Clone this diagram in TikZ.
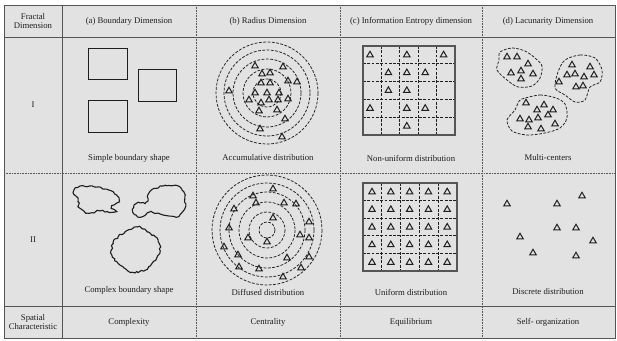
\documentclass[tikz,border=0pt]{standalone}
\usepackage{fontspec}
\setmainfont{Liberation Serif}
\usetikzlibrary{shapes.geometric,decorations.pathmorphing}
\definecolor{paperGrey}{HTML}{E2E2E2}
\definecolor{ruleGrey}{HTML}{555555}
\definecolor{inkBlack}{HTML}{1E1E1E}
\tikzset{
  tri/.style={draw=inkBlack, regular polygon, regular polygon sides=3,
    minimum size=7.5pt, inner sep=0pt, line width=1pt},
  lbl/.style={font=\fontsize{8.7}{9.7}\selectfont, text=inkBlack, align=center},
  rule/.style={draw=ruleGrey, line width=0.8pt},
  dotrule/.style={draw=ruleGrey, line width=0.6pt, densely dotted},
  ring/.style={draw=inkBlack, line width=0.75pt, dash pattern=on 2.8pt off 1.5pt},
  blob/.style={draw=inkBlack, line width=1.1pt, decorate,
    decoration={random steps, segment length=2.2pt, amplitude=0.9pt}},
  cluster/.style={draw=inkBlack, line width=0.75pt, dash pattern=on 2.8pt off 1.5pt}
}
\begin{document}
\begin{tikzpicture}[x=1pt,y=-1pt]
  \useasboundingbox (0,0) rectangle (617,340);
  \pgfmathsetseed{7}
  % table background and rules
  \fill[paperGrey] (4,5) rectangle (615,338);
  \draw[dotrule] (4,173) -- (615,173);
  \foreach \xv in {196,340,482}
    \draw[dotrule] (\xv,5) -- (\xv,338);
  \draw[rule] (4,37) -- (615,37);
  \draw[rule] (4,306) -- (615,306);
  \draw[rule] (62,5) -- (62,338);
  \draw[rule] (4,5) rectangle (615,338);
  % header row
  \node[lbl] (hfd) at (33,21) {Fractal\\Dimension};
  \node[lbl] (ha) at (129,21) {(a) Boundary Dimension};
  \node[lbl] (hb) at (268,21) {(b) Radius Dimension};
  \node[lbl] (hc) at (411,21) {(c) Information Entropy dimension};
  \node[lbl] (hd) at (548,21) {(d) Lacunarity Dimension};
  % row labels
  \node[lbl] (rI) at (33,105) {I};
  \node[lbl] (rII) at (33,240) {II};
  % (a) boundary, row I
  \draw[rule, draw=inkBlack, line width=1pt] (88,48) rectangle (127,79);
  \draw[rule, draw=inkBlack, line width=1pt] (138,69) rectangle (176,101);
  \draw[rule, draw=inkBlack, line width=1pt] (88,100) rectangle (127,132);
  \node[lbl] (la1) at (129,158) {Simple boundary shape};
  % (a) boundary, row II
  \draw[blob] plot[smooth cycle] coordinates {(76,188) (90,186) (104,189) (113,192)
    (119,200) (112,206) (116,212) (100,211) (88,213) (80,208) (78,200) (74,194)};
  \draw[blob] plot[smooth cycle] coordinates {(150,192) (163,186) (178,186) (185,195)
    (184,210) (176,217) (160,214) (150,212) (140,217) (133,212) (136,204) (146,202)};
  \draw[blob] plot[smooth cycle] coordinates {(125,232) (137,227) (150,233) (158,240)
    (160,252) (153,262) (145,270) (132,272) (120,265) (112,255) (113,243) (118,237)};
  \node[lbl] (la2) at (129,290) {Complex boundary shape};
  % (b) radius, row I
  \foreach \r in {14,24,34,43,51}
    \draw[ring] (267,93) circle (\r);
  \foreach \p [count=\i] in {(255,66),(262,74),(270,73),(283,67),(261,83),(270,83),
    (288,81),(297,82),(229,91),(255,93),(267,93),(279,93),(249,100),(261,103),
    (269,100),(278,100),(288,99),(259,111),(277,110),(285,119),(260,129),(282,137)}
    \node[tri] (tb1-\i) at \p {};
  \node[lbl] (lb1) at (268,158) {Accumulative distribution};
  % (b) radius, row II
  \foreach \r in {8,18,28,38,47,55}
    \draw[ring] (267,230) circle (\r);
  \foreach \p [count=\i] in {(273,189),(253,196),(256,203),(284,203),(296,204),
    (234,209),(273,218),(309,222),(229,228),(248,238),(267,242),(300,235),(309,238),
    (224,247),(238,255),(287,258),(309,257),(239,267),(259,269),(301,268),(283,277)}
    \node[tri] (tb2-\i) at \p {};
  \node[lbl] (lb2) at (268,292) {Diffused distribution};
  % (c) entropy, row I
  \foreach \xv in {381.4,399.8,418.2,436.6}
    \draw[ring, line width=0.9pt] (\xv,46) -- (\xv,135);
  \foreach \yv in {63.8,81.6,99.4,117.2}
    \draw[ring, line width=0.9pt] (363,\yv) -- (455,\yv);
  \draw[rule, line width=1.2pt] (363,46) rectangle (455,135);
  \foreach \c/\rr [count=\i] in {0/0,2/0,4/0,1/1,2/1,3/1,1/2,2/2,0/3,2/3,3/3,2/4}
    \node[tri] (tc1-\i) at ({370+18.4*\c},{55+17.8*\rr}) {};
  \node[lbl] (lc1) at (411,158) {Non-uniform distribution};
  % (c) entropy, row II
  \foreach \xv in {381.8,400.6,419.4,438.2}
    \draw[ring, line width=0.9pt] (\xv,183) -- (\xv,271);
  \foreach \yv in {200.6,218.2,235.8,253.4}
    \draw[ring, line width=0.9pt] (363,\yv) -- (457,\yv);
  \draw[rule, line width=1.2pt] (363,183) rectangle (457,271);
  \foreach \c in {0,...,4}
    \foreach \rr in {0,...,4}
      \node[tri] (tc2-\c-\rr) at ({372+18.8*\c},{192+17.6*\rr}) {};
  \node[lbl] (lc2) at (411,292) {Uniform distribution};
  % (d) lacunarity, row I
  \draw[cluster] plot[smooth cycle] coordinates {(500,52) (512,48) (525,51) (535,58)
    (542,66) (540,78) (532,86) (518,87) (507,80) (497,70) (499,60)};
  \draw[cluster] plot[smooth cycle] coordinates {(565,60) (580,55) (595,58) (602,70)
    (600,82) (590,87) (585,100) (575,102) (565,95) (555,88) (558,72)};
  \draw[cluster] plot[smooth cycle] coordinates {(522,99) (540,95) (556,98) (565,104)
    (567,118) (560,128) (545,133) (527,135) (512,131) (507,120) (515,110) (518,103)};
  \foreach \p [count=\i] in {(507,57),(517,57),(528,64),(511,73),(521,71),(533,74),
    (521,79),(572,65),(590,67),(567,75),(575,74),(584,77),(594,75),(559,82),(576,87),
    (583,86),(526,103),(537,110),(544,105),(553,110),(520,119),(529,120),(538,118),
    (548,115),(528,127),(541,129),(555,124)}
    \node[tri] (td1-\i) at \p {};
  \node[lbl] (ld1) at (548,158) {Multi-centers};
  % (d) lacunarity, row II
  \foreach \p [count=\i] in {(507,204),(557,204),(582,196),(557,228),(576,228),
    (520,237),(593,241),(533,253),(576,256)}
    \node[tri] (td2-\i) at \p {};
  \node[lbl] (ld2) at (548,292) {Discrete distribution};
  % spatial characteristic row
  \node[lbl] (sc) at (33,322) {Spatial\\Characteristic};
  \node[lbl] (sa) at (129,322) {Complexity};
  \node[lbl] (sb) at (268,322) {Centrality};
  \node[lbl] (sc2) at (411,322) {Equilibrium};
  \node[lbl] (sd) at (548,322) {Self- organization};
\end{tikzpicture}
\end{document}
